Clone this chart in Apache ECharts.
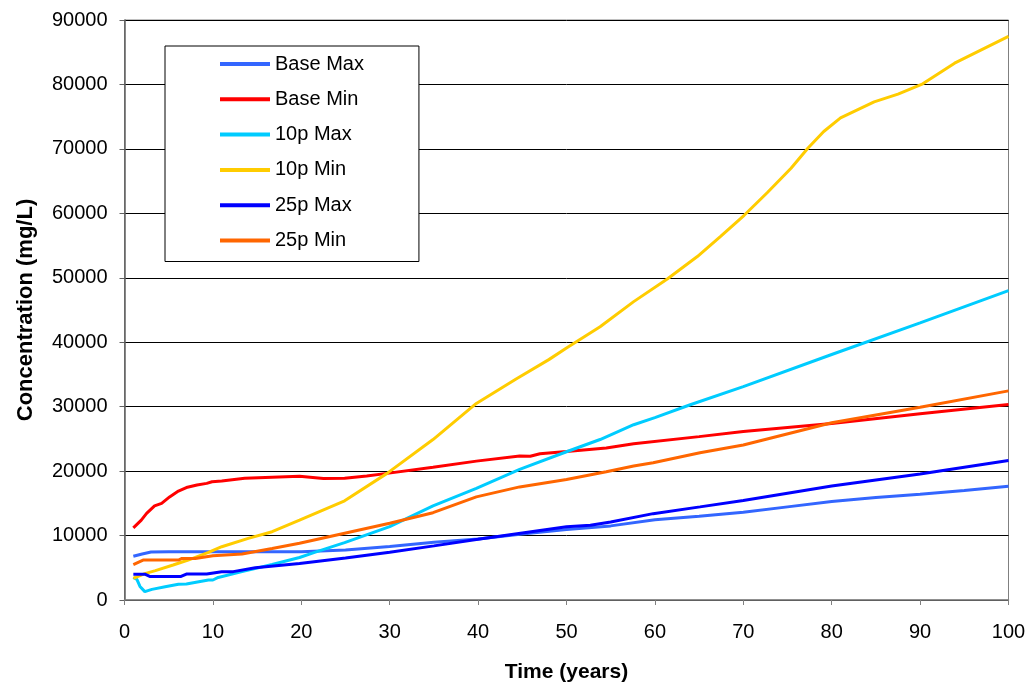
<!DOCTYPE html>
<html>
<head>
<meta charset="utf-8">
<script src="https://cdn.jsdelivr.net/npm/echarts@6/dist/echarts.min.js"></script>
<style>
  html, body { margin: 0; padding: 0; background: #fff; }
  #chart { width: 1030px; height: 691px; }
</style>
</head>
<body>
<div id="chart"></div>
<script>
// Concentration over time, [year, mg/L] pairs for each scenario
const seriesNames = ['Base Max', 'Base Min', '10p Max', '10p Min', '25p Max', '25p Min'];
const seriesColors = ['#3366FF', '#FF0000', '#00CCFF', '#FFCC00', '#0000FF', '#FF6600'];

const baseMax = [[1,6800],[2,7150],[3,7450],[5,7480],[10,7480],[15,7480],[20,7500],[25,7760],[30,8300],[35,8950],[40,9450],[45,10250],[50,10950],[55,11500],[60,12450],[65,13000],[70,13600],[75,14450],[80,15300],[85,15900],[90,16400],[95,17000],[100,17650]];
const baseMin = [[1,11200],[1.9,12400],[2.5,13450],[3.4,14600],[4.2,15000],[5.1,16000],[6.1,16900],[7,17450],[8.2,17850],[9.3,18100],[9.9,18350],[11,18450],[13.6,18880],[16.7,19040],[19.8,19200],[22.5,18850],[24.9,18880],[27.4,19250],[29.7,19650],[34.9,20600],[39.8,21550],[44.7,22350],[45.9,22300],[47,22700],[50,23050],[54.5,23600],[57.6,24250],[65,25350],[70,26150],[80,27400],[90,28900],[100,30350]];
const p10Max = [[1,3500],[1.4,3200],[1.75,2100],[2.3,1300],[3.1,1650],[4.6,2050],[6.1,2450],[7,2480],[9.5,3100],[10,3100],[10.6,3500],[13.3,4400],[16.7,5500],[19.8,6600],[21.5,7400],[24.9,8900],[30,11380],[34.9,14590],[39.8,17330],[44.7,20280],[50,23000],[53.8,24900],[57.6,27200],[60,28300],[64,30300],[70,33100],[80,38100],[90,43000],[100,48000]];
const p10Min = [[1,3350],[2.3,4100],[3.5,4550],[5.5,5430],[7.2,6200],[9.5,7400],[11,8270],[14,9570],[16.7,10600],[19.8,12400],[24.9,15400],[29.7,19650],[34.9,24900],[39.8,30500],[44.3,34300],[48,37300],[50,39100],[53.8,42400],[57.6,46300],[61.4,49800],[64.8,53300],[67.4,56400],[70.1,59700],[72.7,63200],[75.4,67000],[77.3,70100],[79.1,72700],[81,74800],[84.8,77300],[87.5,78500],[90.3,80100],[93.9,83300],[100,87450]];
const p25Max = [[1,4000],[2.3,4000],[2.85,3650],[6.4,3650],[7,4030],[9.3,4030],[11,4400],[12.3,4400],[14.8,5000],[19.8,5650],[25,6500],[30,7400],[35,8400],[39.8,9400],[45,10400],[50,11350],[52.7,11600],[55,12100],[59.8,13400],[65.1,14450],[70,15450],[80,17700],[90,19550],[100,21650]];
const p25Min = [[1,5500],[2.1,6200],[6.1,6200],[6.5,6450],[8,6450],[10,6880],[13.3,7150],[16.7,8000],[19.8,8800],[24.9,10350],[30,11900],[34.9,13550],[39.8,16000],[44.7,17550],[50,18700],[54.5,19900],[57.6,20800],[59.8,21300],[65.1,22850],[70,24050],[80,27500],[90,29900],[100,32450]];

const seriesData = [baseMax, baseMin, p10Max, p10Min, p25Max, p25Min];

const FONT = 'Liberation Sans, Arial, sans-serif';

const chart = echarts.init(document.getElementById('chart'), null, { renderer: 'canvas' });

chart.setOption({
  animation: false,
  backgroundColor: '#ffffff',
  textStyle: { fontFamily: FONT },
  grid: {
    left: 124.5, right: 21.5, top: 20, bottom: 91,
    show: true, borderColor: '#808080', borderWidth: 1, backgroundColor: 'transparent'
  },
  legend: {
    orient: 'vertical',
    left: 165, top: 46,
    data: seriesNames,
    icon: 'rect',
    itemWidth: 50, itemHeight: 4,
    itemGap: 15.3,
    padding: [8, 55, 11, 55],
    backgroundColor: '#ffffff',
    borderColor: '#000000', borderWidth: 1,
    textStyle: { fontFamily: FONT, fontSize: 20, color: '#000', lineHeight: 20 }
  },
  xAxis: {
    type: 'value', min: 0, max: 100, interval: 10,
    name: 'Time (years)', nameLocation: 'middle', nameGap: 62,
    nameTextStyle: { fontFamily: FONT, fontSize: 21, fontWeight: 'bold', color: '#000' },
    axisLine: { show: true, lineStyle: { color: '#808080', width: 1.5 } },
    axisTick: { show: true, inside: false, length: 5, lineStyle: { color: '#808080' } },
    axisLabel: { fontFamily: FONT, fontSize: 20, color: '#000', margin: 22 },
    splitLine: { show: false }
  },
  yAxis: {
    type: 'value', min: 0, max: 90000, interval: 10000,
    name: 'Concentration (mg/L)', nameLocation: 'middle', nameGap: 88, nameRotate: 90,
    nameTextStyle: { fontFamily: FONT, fontSize: 22, fontWeight: 'bold', color: '#000' },
    axisLine: { show: true, lineStyle: { color: '#606060', width: 1.5 } },
    axisTick: { show: true, inside: false, length: 5, lineStyle: { color: '#606060' } },
    axisLabel: { fontFamily: FONT, fontSize: 20, color: '#000', margin: 17, formatter: v => String(v) },
    splitLine: { show: true, lineStyle: { color: '#000000', width: 1 } }
  },
  series: seriesNames.map((name, i) => ({
    name: name,
    type: 'line',
    data: seriesData[i],
    showSymbol: false,
    symbol: 'none',
    smooth: false,
    color: seriesColors[i],
    lineStyle: { width: 3, color: seriesColors[i] }
  }))
});
</script>
</body>
</html>
